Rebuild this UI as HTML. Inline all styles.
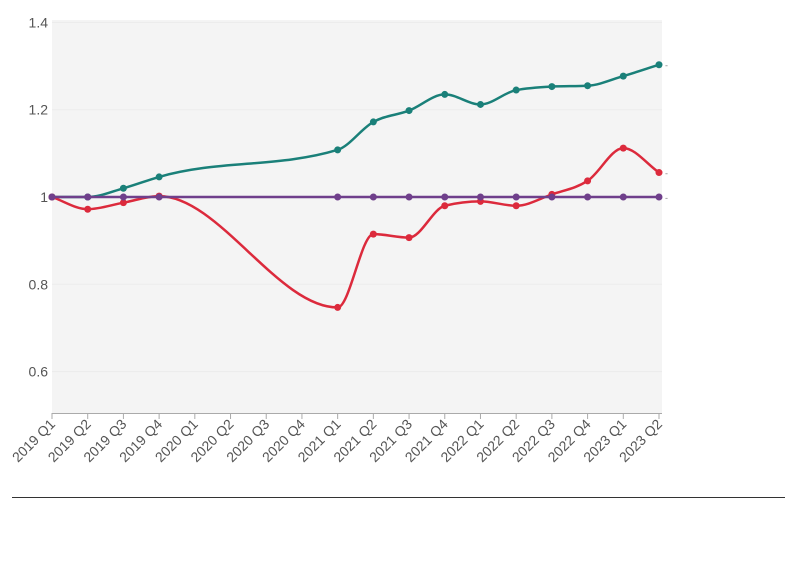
<!DOCTYPE html>
<html><head><meta charset="utf-8"><style>
body{margin:0;background:#fff;font-family:"Liberation Sans",sans-serif}
svg text{font-family:"Liberation Sans",sans-serif}
</style></head><body>
<svg id="c" width="796" height="575"></svg>
<script>
const categories=["2019 Q1","2019 Q2","2019 Q3","2019 Q4","2020 Q1","2020 Q2","2020 Q3","2020 Q4","2021 Q1","2021 Q2","2021 Q3","2021 Q4","2022 Q1","2022 Q2","2022 Q3","2022 Q4","2023 Q1","2023 Q2"];
const tealValues=[1.0,1.0,1.02,1.046,null,null,null,null,1.108,1.172,1.198,1.235,1.212,1.245,1.253,1.255,1.277,1.303];
const redValues=[1.0,0.972,0.987,1.002,null,null,null,null,0.747,0.915,0.907,0.98,0.99,0.98,1.006,1.037,1.112,1.056];
const purpleValues=[1,1,1,1,null,null,null,null,1,1,1,1,1,1,1,1,1,1];
const yTicks=[0.6,0.8,1,1.2,1.4];
const yTickLabels=["0.6","0.8","1","1.2","1.4"];
const NS="http://www.w3.org/2000/svg";
const svg=document.getElementById('c');
const L=52,R=659,T=20,B=413,PR=662;
const x=i=>L+i*(R-L)/(categories.length-1);
const y=v=>197-(v-1)*436.5;
function mk(t,a,p){const e=document.createElementNS(NS,t);for(const k in a)e.setAttribute(k,a[k]);(p||svg).appendChild(e);return e;}
const bg=mk('rect',{x:L,y:T,width:PR-L,height:B-T,fill:'#f4f4f4'});


yTicks.forEach((v,i)=>{
 const g=mk('line',{x1:L,x2:PR,y1:y(v),y2:y(v),stroke:'#ebebeb','stroke-width':1});
 
 
 const t=mk('text',{x:L-4,y:y(v)+5,'text-anchor':'end','font-size':14,fill:'#555'});
 t.textContent=yTickLabels[i];
 
 
});
const ax=mk('line',{x1:L,x2:PR,y1:B+0.5,y2:B+0.5,stroke:'#aaa'});


categories.forEach((c,i)=>{
 const tk=mk('line',{x1:x(i),x2:x(i),y1:B,y2:B+6,stroke:'#aaa'});
 
 
 const t=mk('text',{transform:`translate(${x(i)+4},${B+12}) rotate(-45)`,'text-anchor':'end','font-size':14,fill:'#555'});
 t.textContent=c;
 
 
});
function monotone(pts){
 const n=pts.length;if(n<2)return '';
 const d=[],m=[];
 for(let i=0;i<n-1;i++)d.push((pts[i+1][1]-pts[i][1])/(pts[i+1][0]-pts[i][0]));
 for(let i=0;i<n;i++){
  if(i===0)m.push(d[0]);else if(i===n-1)m.push(d[n-2]);
  else{ if(d[i-1]*d[i]<=0)m.push(0);else{const h0=pts[i][0]-pts[i-1][0],h1=pts[i+1][0]-pts[i][0];const p=(d[i-1]*h1+d[i]*h0)/(h0+h1);m.push(Math.sign(d[i])*Math.min(Math.abs(p),2*Math.abs(d[i-1]),2*Math.abs(d[i])));}}
 }
 let s=`M${pts[0][0]},${pts[0][1]}`;
 for(let i=0;i<n-1;i++){const h=(pts[i+1][0]-pts[i][0])/3;
  s+=`C${pts[i][0]+h},${pts[i][1]+m[i]*h} ${pts[i+1][0]-h},${pts[i+1][1]-m[i+1]*h} ${pts[i+1][0]},${pts[i+1][1]}`;}
 return s;
}
function series(vals,color,name){
 const pts=[];vals.forEach((v,i)=>{if(v!==null)pts.push([x(i),y(v)]);});
 const p=mk('path',{d:monotone(pts),fill:'none',stroke:color,'stroke-width':2.5});
 
 
 pts.forEach(q=>{const c=mk('circle',{cx:q[0],cy:q[1],r:3.5,fill:color});
  
  });
 const last=pts[pts.length-1];
 const t=mk('text',{x:last[0]+6,y:last[1]+4,'font-size':9,fill:'#888'});
 t.textContent='-';
 
 
}
series(tealValues,'#1a8079','teal-series');
series(redValues,'#dc2a3c','red-series');
series(purpleValues,'#6f3f8b','purple-series');
const hr=mk('line',{x1:12,x2:785,y1:497.5,y2:497.5,stroke:'#333'});


</script>
</body></html>
